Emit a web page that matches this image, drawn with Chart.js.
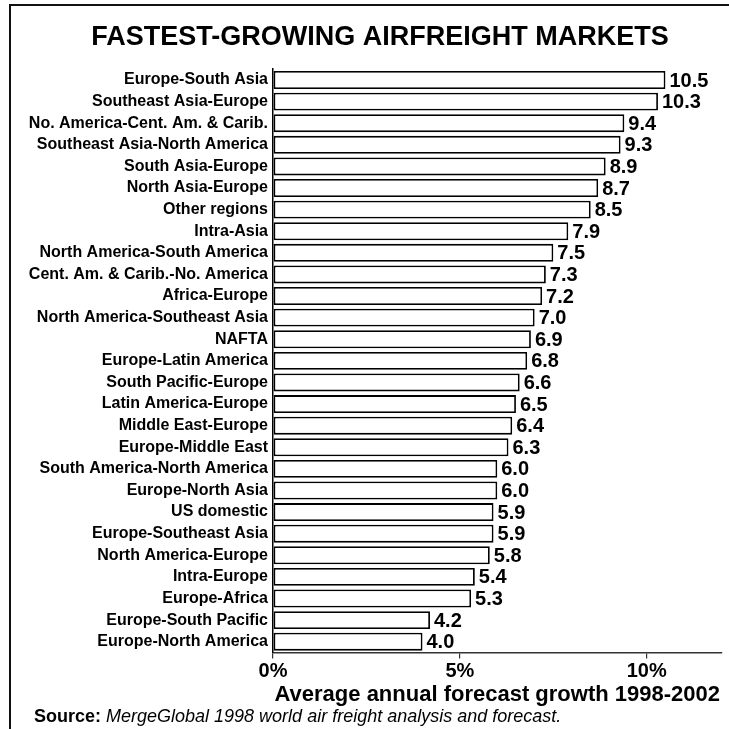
<!DOCTYPE html>
<html><head><meta charset="utf-8">
<script src="https://cdn.jsdelivr.net/npm/chart.js@4.4.1/dist/chart.umd.min.js"></script>
<style>html,body{margin:0;padding:0;background:#fff}#wrap{width:729px;height:729px}</style>
</head><body><div id="wrap"><canvas id="c" width="729" height="729"></canvas></div>
<script>
const categories = [
  'Europe-South Asia', 'Southeast Asia-Europe', 'No. America-Cent. Am. & Carib.',
  'Southeast Asia-North America', 'South Asia-Europe', 'North Asia-Europe',
  'Other regions', 'Intra-Asia', 'North America-South America',
  'Cent. Am. & Carib.-No. America', 'Africa-Europe', 'North America-Southeast Asia',
  'NAFTA', 'Europe-Latin America', 'South Pacific-Europe', 'Latin America-Europe',
  'Middle East-Europe', 'Europe-Middle East', 'South America-North America',
  'Europe-North Asia', 'US domestic', 'Europe-Southeast Asia', 'North America-Europe',
  'Intra-Europe', 'Europe-Africa', 'Europe-South Pacific', 'Europe-North America'
];
const growth = [10.5, 10.3, 9.4, 9.3, 8.9, 8.7, 8.5, 7.9, 7.5, 7.3, 7.2, 7.0, 6.9, 6.8,
  6.6, 6.5, 6.4, 6.3, 6.0, 6.0, 5.9, 5.9, 5.8, 5.4, 5.3, 4.2, 4.0];
const tickValues = [0, 5, 10];
const axisMax = 12;
const titleText = 'FASTEST-GROWING AIRFREIGHT MARKETS';
const axisTitle = 'Average annual forecast growth 1998-2002';
const sourceBold = 'Source:';
const sourceText = 'MergeGlobal 1998 world air freight analysis and forecast.';

const FONT = '"Liberation Sans", Arial, Helvetica, sans-serif';

const decor = {
  id: 'decor',
  afterDraw(chart) {
    const ctx = chart.ctx;
    ctx.save();
    // frame
    ctx.strokeStyle = '#111';
    ctx.lineWidth = 2;
    ctx.beginPath();
    ctx.moveTo(10, 729);
    ctx.lineTo(10, 5);
    ctx.lineTo(729, 5);
    ctx.stroke();
    ctx.fillStyle = '#000';
    // title
    ctx.font = 'bold 27px ' + FONT;
    ctx.textAlign = 'center';
    ctx.textBaseline = 'middle';
    ctx.fillText(titleText, 380, 38);
    // value labels
    const meta = chart.getDatasetMeta(0);
    ctx.font = 'bold 20px ' + FONT;
    ctx.textAlign = 'left';
    meta.data.forEach((bar, i) => {
      ctx.fillText(growth[i].toFixed(1), bar.x + 4, bar.y + 1);
    });
    // source
    ctx.font = 'bold 18px ' + FONT;
    ctx.fillText(sourceBold, 34, 717);
    const w = ctx.measureText(sourceBold + ' ').width;
    ctx.font = 'italic 18px ' + FONT;
    ctx.fillText(sourceText, 34 + w, 717);
    ctx.restore();
  }
};

new Chart(document.getElementById('c'), {
  type: 'bar',
  data: {
    labels: categories,
    datasets: [{
      data: growth,
      backgroundColor: '#fff',
      borderColor: '#000',
      borderWidth: 1.8,
      borderSkipped: false,
      barPercentage: 0.83,
      categoryPercentage: 1.0
    }]
  },
  options: {
    indexAxis: 'y',
    responsive: false,
    animation: false,
    devicePixelRatio: 1,
    layout: { padding: { left: 0, right: 7.5, top: 69.2, bottom: 22 } },
    plugins: {
      legend: { display: false },
      tooltip: { enabled: false },
      title: { display: false }
    },
    scales: {
      x: {
        type: 'linear',
        min: 0,
        max: axisMax,
        afterBuildTicks: (axis) => {
          axis.ticks = tickValues.map(v => ({ value: v }));
        },
        afterFit: (s) => { s.height = 54.5; },
        grid: { display: true, drawOnChartArea: false, drawTicks: true, tickLength: 6, color: '#333', lineWidth: 1.2 },
        border: { display: true, color: '#333', width: 1.5 },
        ticks: {
          color: '#000',
          padding: 1,
          maxRotation: 0,
          font: { family: FONT, size: 20, weight: 'bold' },
          callback: (v) => v + '%'
        },
        title: {
          display: true,
          text: axisTitle,
          color: '#000',
          padding: { top: 0, bottom: 0 },
          font: { family: FONT, size: 22, weight: 'bold', lineHeight: 1.1 }
        }
      },
      y: {
        afterFit: (s) => { s.width = 273; },
        grid: { display: false, drawTicks: false },
        border: { display: true, color: '#000', width: 1.5 },
        ticks: {
          color: '#000',
          padding: 5,
          autoSkip: false,
          font: { family: FONT, size: 16, weight: 'bold' }
        }
      }
    }
  },
  plugins: [decor]
});
</script></body></html>
